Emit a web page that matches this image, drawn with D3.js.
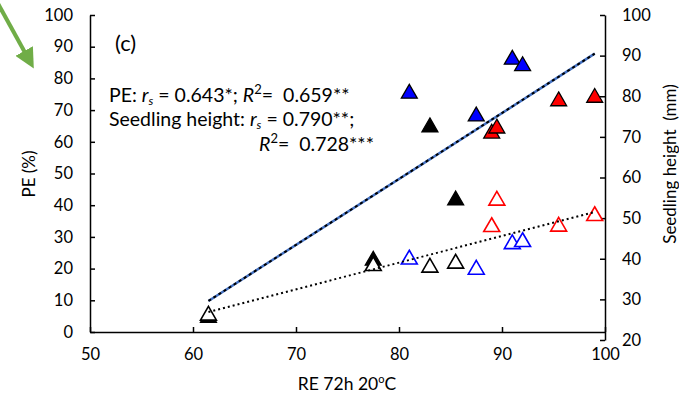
<!DOCTYPE html>
<html>
<head>
<meta charset="utf-8">
<script src="https://cdn.jsdelivr.net/npm/d3@7"></script>
<style>
  body { margin: 0; background: #fff; }
  svg text { font-family: Lato, "Open Sans", sans-serif; fill: #000; white-space: pre; }
</style>
</head>
<body>
<div id="chart"></div>
<script>
// RE 72h 20C values for each sample
const re      = [61.5, 77.5, 81,   83,   85.5, 87.5, 89,   89.5, 91,   92,   95.5, 99];
const colors  = ["k",  "k",  "b",  "k",  "k",  "b",  "r",  "r",  "b",  "b",  "r",  "r"];
// PE (%) - filled triangles, left axis
const pe      = [5,    23,   75.7, 65.1, 42,   68.5, 63.1, 64.7, 86.4, 84.4, 73.3, 74.4];
// seedling height (mm) - open triangles, right axis
const height  = [26.4, 38.6, 40.2, 38.2, 39.2, 37.7, 48.2, 54.7, 44.0, 44.5, 48.3, 50.9];

// trend line end points
const peTrend     = [[61.5, 9.8], [99, 87.8]];
const heightTrend = [[61.5, 26.9], [99, 51.5]];

const xTicks  = [50, 60, 70, 80, 90, 100];
const yTicksL = [0, 10, 20, 30, 40, 50, 60, 70, 80, 90, 100];
const yTicksR = [20, 30, 40, 50, 60, 70, 80, 90, 100];

const colorMap = {k: "#000000", b: "#0000ff", r: "#ff0000"};

const width = 679, height_ = 395;

const svg = d3.select("#chart").append("svg")
    .attr("width", width)
    .attr("height", height_);

const x  = d3.scaleLinear().domain([50, 100]).range([90, 605]);
const yL = d3.scaleLinear().domain([0, 100]).range([332, 15]);
const yR = d3.scaleLinear().domain([20, 100]).range([340, 15]);

// axes
const gx = svg.append("g")
    .attr("transform", "translate(0,332)")
    .call(d3.axisBottom(x).tickValues(xTicks).tickSize(-5).tickSizeOuter(0).tickPadding(13));
const gl = svg.append("g")
    .attr("transform", "translate(90,0)")
    .call(d3.axisLeft(yL).tickValues(yTicksL).tickSize(-5).tickSizeOuter(0).tickPadding(17));
const gr = svg.append("g")
    .attr("transform", "translate(605,0)")
    .call(d3.axisRight(yR).tickValues(yTicksR).tickSize(-5).tickSizeOuter(0).tickPadding(17));

[gx, gl, gr].forEach(g => {
    g.selectAll("path, line").attr("stroke", "#000").attr("stroke-width", 1.5);
    g.selectAll("text").style("font-size", "16.5px").attr("fill", "#000");
});
gx.selectAll("text").attr("dy", "0.9em");

// axis titles
svg.append("text")
    .attr("transform", "translate(35,174) rotate(-90)")
    .attr("text-anchor", "middle")
    .style("font-size", "17px")
    .text("PE (%)");
svg.append("text")
    .attr("transform", "translate(676,164) rotate(-90)")
    .attr("text-anchor", "middle")
    .style("font-size", "17px")
    .text("Seedling height  (mm)");
const xt = svg.append("text")
    .attr("x", 347).attr("y", 390)
    .attr("text-anchor", "middle")
    .style("font-size", "17.5px");
xt.append("tspan").text("RE 72h 20");
xt.append("tspan").attr("dy", -7).style("font-size", "11px").text("o");
xt.append("tspan").attr("dy", 7).text("C");

// PE trend line: blue line with black dashes on top
const line = d3.line().x(d => x(d[0]));
svg.append("path")
    .attr("d", line.y(d => yL(d[1]))(peTrend))
    .attr("fill", "none").attr("stroke", "#4472c4").attr("stroke-width", 2.5);
svg.append("path")
    .attr("d", line.y(d => yL(d[1]))(peTrend))
    .attr("fill", "none").attr("stroke", "#000").attr("stroke-width", 2)
    .attr("stroke-dasharray", "3,3");

const tri = d3.symbol().type(d3.symbolTriangle).size(110);

// filled triangles for PE
svg.selectAll(".pe")
    .data(re)
    .enter()
    .append("path")
    .attr("class", "pe")
    .attr("d", tri)
    .attr("transform", (d, i) => `translate(${x(d)},${yL(pe[i]) + 1.5})`)
    .attr("fill", (d, i) => colorMap[colors[i]])
    .attr("stroke", "#000")
    .attr("stroke-width", 1.3);

// open triangles for seedling height
svg.selectAll(".sh")
    .data(re)
    .enter()
    .append("path")
    .attr("class", "sh")
    .attr("d", tri)
    .attr("transform", (d, i) => `translate(${x(d)},${yR(height[i]) + 1.5})`)
    .attr("fill", "#fff")
    .attr("stroke", (d, i) => colorMap[colors[i]])
    .attr("stroke-width", 1.6);

// seedling height trend (dotted)
svg.append("path")
    .attr("d", line.y(d => yR(d[1]))(heightTrend))
    .attr("fill", "none").attr("stroke", "#000").attr("stroke-width", 2)
    .attr("stroke-dasharray", "2,3");

// annotations
svg.append("text").attr("x", 115).attr("y", 51).style("font-size", "22px").text("(c)");

function stat(xp, yp, parts) {
    const t = svg.append("text").attr("x", xp).attr("y", yp).style("font-size", "19.5px");
    parts.forEach(p => {
        const s = t.append("tspan").text(p.t);
        if (p.i) s.style("font-style", "italic");
        if (p.sub) s.attr("dy", 3).style("font-size", "12px");
        if (p.sup) s.attr("dy", -8).style("font-size", "13px");
        if (p.dy) s.attr("dy", p.dy);
    });
}
stat(109, 102, [
    {t: "PE: "}, {t: "r", i: true}, {t: "s", i: true, sub: true},
    {t: " = 0.643*; ", dy: -3}, {t: "R", i: true}, {t: "2", sup: true},
    {t: "=  0.659**", dy: 8}
]);
stat(109, 126, [
    {t: "Seedling height: "}, {t: "r", i: true}, {t: "s", i: true, sub: true},
    {t: " = 0.790**;", dy: -3}
]);
stat(259, 151, [
    {t: "R", i: true}, {t: "2", sup: true}, {t: "=  0.728***", dy: 8}
]);

// green arrow in the corner
const defs = svg.append("defs");
defs.append("marker")
    .attr("id", "arrow")
    .attr("viewBox", "0 0 10 10")
    .attr("refX", 4).attr("refY", 5)
    .attr("markerWidth", 5).attr("markerHeight", 5)
    .attr("orient", "auto")
    .append("path").attr("d", "M0,0 L10,5 L0,10 z").attr("fill", "#70ad47");
svg.append("line")
    .attr("x1", -4).attr("y1", 0).attr("x2", 28).attr("y2", 58)
    .attr("stroke", "#70ad47").attr("stroke-width", 4)
    .attr("marker-end", "url(#arrow)");
</script>
</body>
</html>
